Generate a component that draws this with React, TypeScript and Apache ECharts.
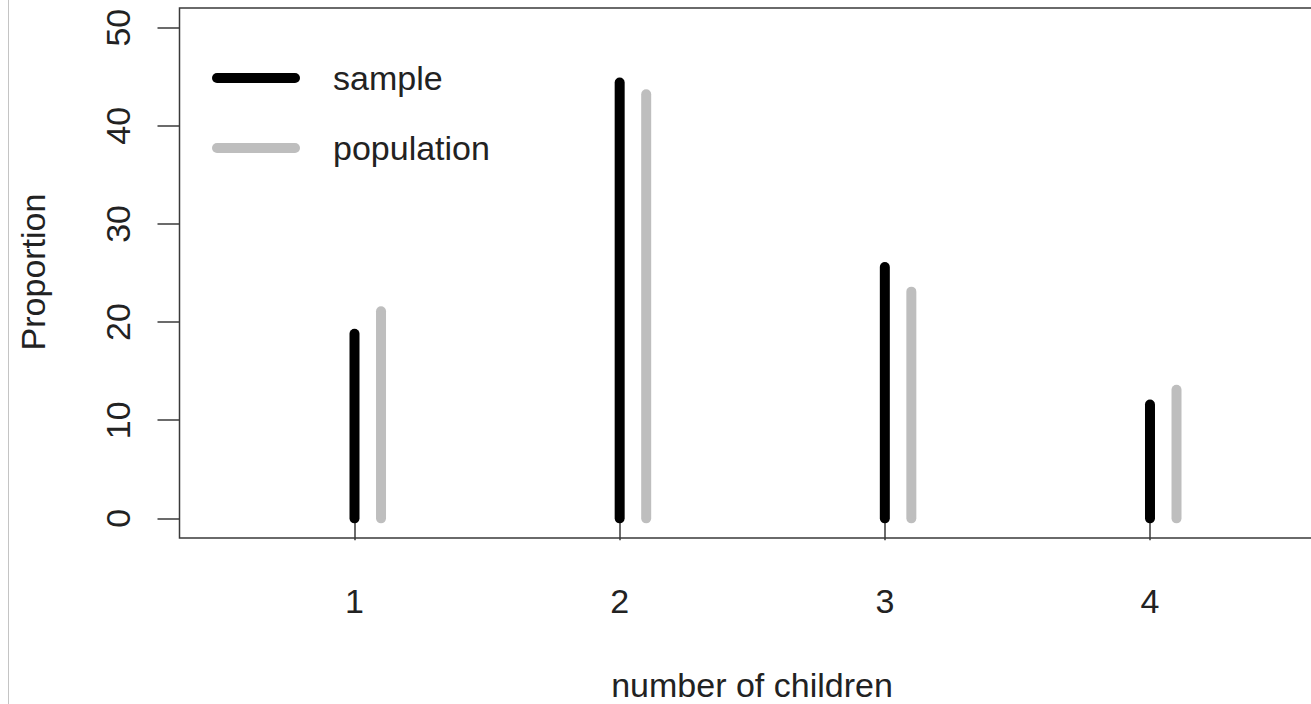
import React, { useEffect, useRef } from "react";
import * as echarts from "echarts";

const categories = [1, 2, 3, 4];
const sampleValues = [18.8, 44.4, 25.6, 11.6];
const populationValues = [21.1, 43.2, 23.1, 13.1];
const yTicks = [0, 10, 20, 30, 40, 50];
const seriesNames = ["sample", "population"];
const xTitle = "number of children";
const yTitle = "Proportion";

const FONT = "'Liberation Sans', Arial, Helvetica, sans-serif";
const TEXT = "#222";
const AXIS = "#3a3a3a";
const POP_OFFSET = 0.1;
const FS = 34;

function lineSeries(name: string, data: number[][], color: string) {
  return {
    type: "custom",
    name,
    itemStyle: { color },
    data,
    renderItem: (params: any, api: any) => {
      const x = api.value(0);
      const y = api.value(1);
      const p0 = api.coord([x, 0]);
      const p1 = api.coord([x, y]);
      return {
        type: "line",
        shape: { x1: p0[0], y1: p0[1], x2: p1[0], y2: p1[1] },
        style: { stroke: color, lineWidth: 10, lineCap: "round" },
      };
    },
  };
}

export default function App() {
  const ref = useRef<HTMLDivElement>(null);
  useEffect(() => {
    if (!ref.current) return;
    const chart = echarts.init(ref.current, null, { renderer: "svg" });
    const sampleData = categories.map((c, i) => [c, sampleValues[i]]);
    const popData = categories.map((c, i) => [c + POP_OFFSET, populationValues[i]]);
    chart.setOption({
      animation: false,
      backgroundColor: "#fff",
      grid: {
        left: 179.5,
        top: 8,
        width: 1145.5,
        height: 530,
        containLabel: false,
        outerBoundsMode: "none",
        show: true,
        borderColor: AXIS,
        borderWidth: 1.5,
        backgroundColor: "transparent",
      },
      xAxis: {
        type: "value",
        min: 0.34,
        max: 4.66,
        splitLine: { show: false },
        axisLine: { show: false },
        axisTick: {
          show: true,
          customValues: categories,
          length: 22,
          lineStyle: { color: AXIS, width: 1.5 },
        },
        axisLabel: {
          customValues: categories,
          margin: 46,
          fontSize: FS,
          fontFamily: FONT,
          color: TEXT,
        },
      },
      yAxis: {
        type: "value",
        min: -2,
        max: 52,
        splitLine: { show: false },
        axisLine: { show: false },
        axisTick: {
          show: true,
          customValues: yTicks,
          length: 22,
          lineStyle: { color: AXIS, width: 1.5 },
        },
        axisLabel: {
          customValues: yTicks,
          rotate: 90,
          margin: 45,
          fontSize: FS,
          fontFamily: FONT,
          color: TEXT,
        },
      },
      legend: {
        show: true,
        orient: "vertical",
        left: 212,
        top: 60,
        padding: 0,
        itemWidth: 88,
        itemHeight: 10,
        itemGap: 34,
        selectedMode: false,
        icon: "path://M5,0 H83 A5,5 0 0 1 83,10 H5 A5,5 0 0 1 5,0 Z",
        data: seriesNames,
        textStyle: {
          fontSize: FS,
          fontFamily: FONT,
          color: TEXT,
          lineHeight: 36,
          padding: [0, 0, 0, 28],
        },
      },
      graphic: [
        {
          type: "line",
          shape: { x1: 8.5, y1: 0, x2: 8.5, y2: 704 },
          style: { stroke: "#c4c4c4", lineWidth: 1 },
          silent: true,
        },
        {
          type: "text",
          x: 752,
          y: 685,
          style: {
            text: xTitle,
            fontSize: FS,
            fontFamily: FONT,
            fill: TEXT,
            textAlign: "center",
            textVerticalAlign: "middle",
          },
        },
        {
          type: "text",
          x: 33,
          y: 272,
          rotation: Math.PI / 2,
          style: {
            text: yTitle,
            fontSize: FS,
            fontFamily: FONT,
            fill: TEXT,
            textAlign: "center",
            textVerticalAlign: "middle",
          },
        },
      ],
      series: [
        lineSeries(seriesNames[0], sampleData, "#000000"),
        lineSeries(seriesNames[1], popData, "#bebebe"),
      ],
    });
    return () => chart.dispose();
  }, []);
  return (
    <div
      ref={ref}
      style={{ position: "fixed", left: 0, top: 0, width: 1311, height: 704 }}
    />
  );
}
